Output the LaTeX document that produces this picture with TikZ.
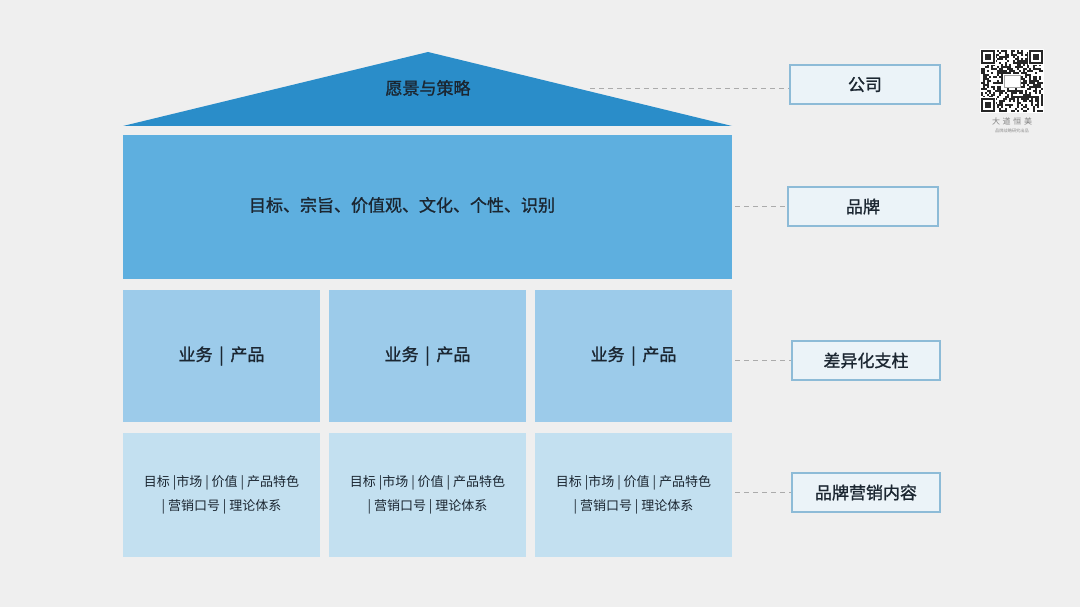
\documentclass[tikz,border=0pt]{standalone}
\usepackage{fontspec}
\newfontfamily\cjk{Noto Sans CJK SC}
\newfontfamily\cjkb[FakeBold=1.2]{Noto Sans CJK SC}
\definecolor{bgc}{HTML}{EFEFEF}
\definecolor{roofc}{HTML}{2A8DC9}
\definecolor{brandc}{HTML}{5EAFDF}
\definecolor{midc}{HTML}{9CCBEA}
\definecolor{botc}{HTML}{C3E0F0}
\definecolor{txtc}{HTML}{1B2631}
\definecolor{lblfill}{HTML}{EBF3F8}
\definecolor{lbldraw}{HTML}{8DBBD7}
\definecolor{dashc}{HTML}{ABABAB}
\begin{document}
\begin{tikzpicture}[x=1pt,y=-1pt,
  blk/.style={draw=none,inner sep=0pt,text=txtc,font=\cjkb\fontsize{17}{20}\selectfont},
  midbox/.style={blk,fill=midc,minimum width=197pt,minimum height=132pt},
  botbox/.style={blk,fill=botc,minimum width=197pt,minimum height=124pt,align=center,font=\cjk\fontsize{13}{24}\selectfont},
  lbl/.style={draw=lbldraw,line width=1.1pt,fill=lblfill,minimum height=39pt,inner sep=0pt,text=txtc,font=\cjkb\fontsize{17}{20}\selectfont},
  dashline/.style={draw=dashc,line width=0.9pt,dash pattern=on 5pt off 4pt}
]
\useasboundingbox (0,0) rectangle (1080,607);
\fill[bgc] (0,0) rectangle (1080,607);

% roof
\fill[roofc] (123,126) -- (428,52) -- (732,126) -- cycle;
\node[blk] (roof) at (428,88) {愿景与策略};
\coordinate (roofR) at (590,88);

% brand
\node[blk,fill=brandc,minimum width=609pt,minimum height=144pt] (brand) at (427.5,207) {};
\node[blk] (brandtxt) at (402,205) {目标、宗旨、价值观、文化、个性、识别};

% pillars
\node[midbox] (m1) at (221.5,356) {业务 \,|\, 产品};
\node[midbox] (m2) at (427.5,356) {业务 \,|\, 产品};
\node[midbox] (m3) at (633.5,356) {业务 \,|\, 产品};

% content
\node[botbox] (b1) at (221.5,495) {目标 |市场 | 价值 | 产品特色\\| 营销口号 | 理论体系};
\node[botbox] (b2) at (427.5,495) {目标 |市场 | 价值 | 产品特色\\| 营销口号 | 理论体系};
\node[botbox] (b3) at (633.5,495) {目标 |市场 | 价值 | 产品特色\\| 营销口号 | 理论体系};

% labels
\node[lbl,minimum width=150pt] (l1) at (865,84.5) {公司};
\node[lbl,minimum width=150pt] (l2) at (863,206.5) {品牌};
\node[lbl,minimum width=148pt] (l3) at (866,360.5) {差异化支柱};
\node[lbl,minimum width=148pt] (l4) at (866,492.5) {品牌营销内容};

% dashed connectors
\path[dashline] (roofR) -- (l1.west |- roofR);
\path[dashline] ([xshift=3pt]brand.east |- l2.west) -- (l2.west);
\path[dashline] ([xshift=3pt]m3.east |- l3.west) -- (l3.west);
\path[dashline] ([xshift=3pt]b3.east |- l4.west) -- (l4.west);

% QR code
\begin{scope}[shift={(981,50)}]
  \fill[white] (-1,-1) rectangle (63,63);
  \pgfmathsetseed{11}
  \foreach \i in {0,...,30}{
    \foreach \j in {0,...,30}{
      \pgfmathrandominteger{\r}{0}{1}
      \ifnum\r=1 \fill[black!85] (\i*2,\j*2) rectangle ++(2,2);\fi
    }
  }
  \foreach \px/\py in {0/0,24/0,0/24}{
    \fill[white] (\px*2-1,\py*2-1) rectangle ++(7*2+2,7*2+2);
    \fill[black!85] (\px*2,\py*2) rectangle ++(14,14);
    \fill[white] (\px*2+2,\py*2+2) rectangle ++(10,10);
    \fill[black!85] (\px*2+4,\py*2+4) rectangle ++(6,6);
  }
  \fill[white] (22,24) rectangle (40,38);
  \draw[black!35,line width=0.4pt] (23,25) rectangle (39,37);
\end{scope}
\node[text=black!50,font=\cjk\fontsize{8}{9}\selectfont,inner sep=0pt] (qrt1) at (1012,121) {大\,\,道\,\,恒\,\,美};
\node[text=black!45,font=\cjk\fontsize{4.2}{5}\selectfont,inner sep=0pt] (qrt2) at (1012,131) {品牌战略研究出品};
\end{tikzpicture}
\end{document}
